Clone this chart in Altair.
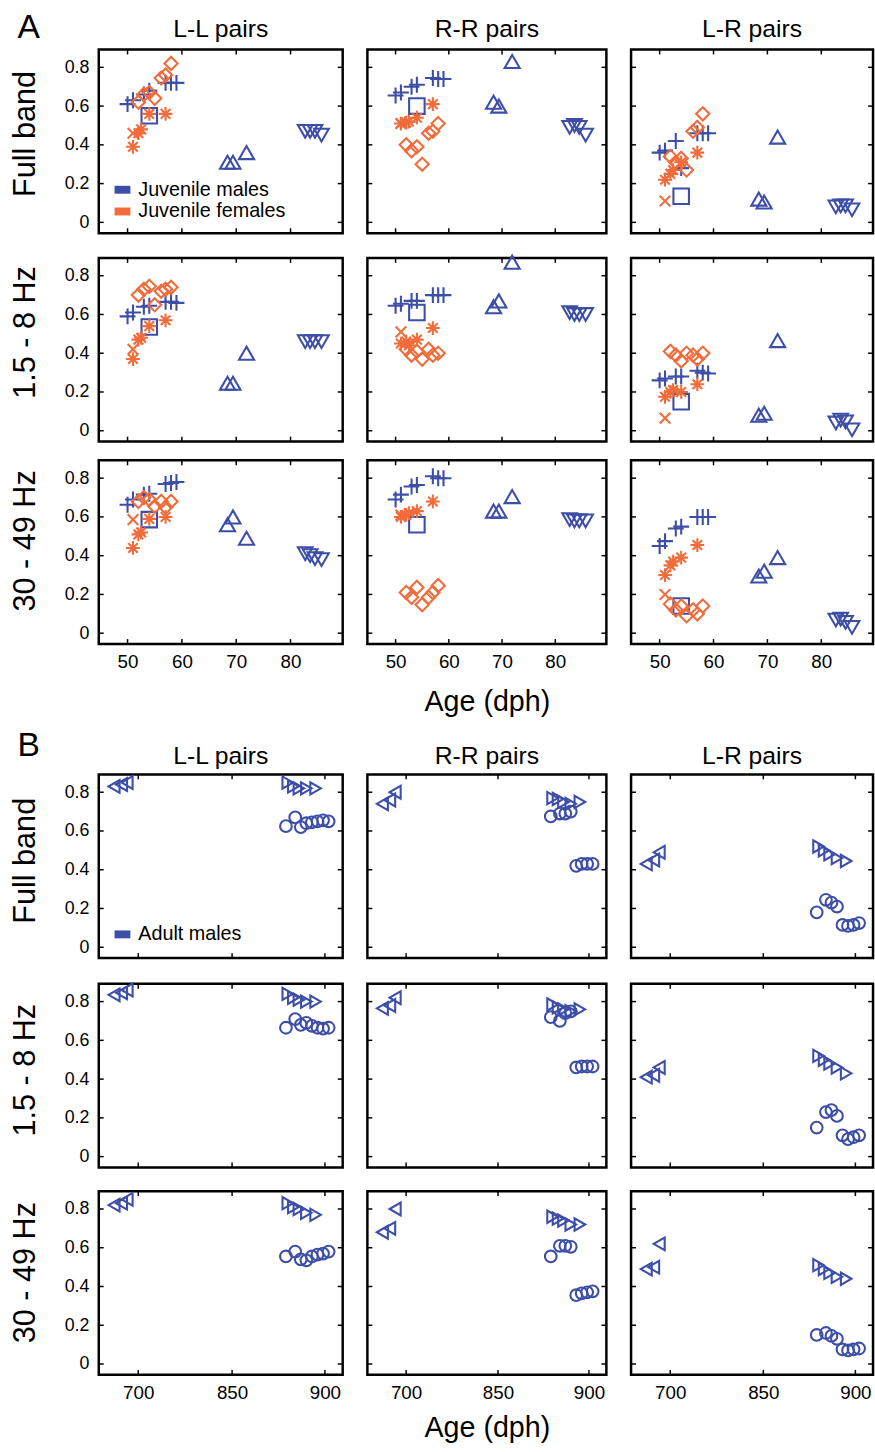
import altair as alt
import pandas as pd

FONT = "Liberation Sans"
BLUE = "#3D4EA8"
ORANGE = "#F26B3A"

ROW_TITLES = ["Full band", "1.5 - 8 Hz", "30 - 49 Hz"]
COL_TITLES = ["L-L pairs", "R-R pairs", "L-R pairs"]
SECTION_LETTERS = ["A", "B"]
X_TITLE = "Age (dph)"
A_X_TICKS = [50, 60, 70, 80]
B_X_TICKS = [700, 850, 900]
Y_TICKS = [0, 0.2, 0.4, 0.6, 0.8]
LEGEND_A = ["Juvenile males", "Juvenile females"]
LEGEND_B = ["Adult males"]

# ---------------- Section A (juveniles) ----------------
JM_PLUS_AGE = [50, 51, 53, 54, 57, 58, 59]
JM_PLUS = [
    [[0.61, 0.63, 0.66, 0.68, 0.72, 0.72, 0.72], [0.655, 0.67, 0.70, 0.71, 0.745, 0.74, 0.74], [0.36, 0.37, 0.42, 0.28, 0.46, 0.46, 0.46]],
    [[0.59, 0.61, 0.64, 0.645, 0.665, 0.665, 0.66], [0.645, 0.655, 0.67, 0.67, 0.70, 0.70, 0.70], [0.26, 0.27, 0.28, 0.28, 0.31, 0.30, 0.295]],
    [[0.663, 0.69, 0.715, 0.72, 0.77, 0.775, 0.78], [0.69, 0.715, 0.757, 0.765, 0.81, 0.80, 0.80], [0.45, 0.475, 0.54, 0.55, 0.60, 0.60, 0.60]],
]
JM_SQUARE_AGE = [54]
JM_SQUARE = [
    [[0.55], [0.60], [0.135]],
    [[0.535], [0.61], [0.15]],
    [[0.586], [0.56], [0.14]],
]
JM_UP_AGE = [68.4, 69.4, 71.9]
JM_UP = [
    [[0.31, 0.31, 0.36], [0.62, 0.60, 0.83], [0.12, 0.105, 0.44]],
    [[0.245, 0.245, 0.40], [0.64, 0.67, 0.87], [0.08, 0.09, 0.465]],
    [[0.56, 0.60, 0.49], [0.63, 0.63, 0.705], [0.295, 0.32, 0.39]],
]
JM_DOWN_AGE = [82.7, 83.6, 84.5, 85.7]
JM_DOWN = [
    [[0.47, 0.47, 0.47, 0.45], [0.49, 0.50, 0.49, 0.45], [0.08, 0.085, 0.085, 0.065]],
    [[0.46, 0.46, 0.46, 0.46], [0.61, 0.60, 0.60, 0.60], [0.04, 0.055, 0.046, 0.005]],
    [[0.41, 0.40, 0.385, 0.38], [0.586, 0.58, 0.58, 0.58], [0.068, 0.073, 0.056, 0.03]],
]
JF_X_AGE = [51]
JF_X = [
    [[0.46], [0.51], [0.11]],
    [[0.42], [0.51], [0.065]],
    [[0.586], [0.61], [0.20]],
]
JF_STAR_AGE = [51, 52, 52.5, 54, 57]
JF_STAR = [
    [[0.39, 0.46, 0.48, 0.56, 0.56], [0.51, 0.515, 0.52, 0.54, 0.61], [0.22, 0.25, 0.27, 0.31, 0.36]],
    [[0.37, 0.47, 0.48, 0.54, 0.57], [0.45, 0.46, 0.44, 0.47, 0.53], [0.175, 0.20, 0.21, 0.20, 0.24]],
    [[0.44, 0.51, 0.52, 0.59, 0.60], [0.60, 0.61, 0.62, 0.63, 0.68], [0.30, 0.35, 0.37, 0.39, 0.455]],
]
JF_DIAMOND_AGE = [52, 53, 54, 55, 56.2, 57, 58]
JF_DIAMOND = [
    [[0.62, 0.66, 0.67, 0.64, 0.745, 0.76, 0.82], [0.40, 0.37, 0.39, 0.30, 0.46, 0.47, 0.51], [0.34, 0.31, 0.33, 0.27, 0.47, 0.49, 0.56]],
    [[0.70, 0.73, 0.745, 0.65, 0.72, 0.73, 0.74], [0.42, 0.39, 0.41, 0.37, 0.42, 0.39, 0.40], [0.41, 0.39, 0.36, 0.40, 0.39, 0.37, 0.40]],
    [[0.68, 0.70, 0.69, 0.655, 0.68, 0.65, 0.68], [0.21, 0.185, 0.236, 0.147, 0.185, 0.21, 0.245], [0.15, 0.12, 0.14, 0.09, 0.12, 0.10, 0.14]],
]

# ---------------- Section B (adults) ----------------
AM_LEFT_AGE = [687, 691, 694]
AM_LEFT = [
    [[0.83, 0.84, 0.85], [0.74, 0.76, 0.80], [0.43, 0.45, 0.49]],
    [[0.835, 0.845, 0.86], [0.765, 0.78, 0.82], [0.41, 0.42, 0.46]],
    [[0.82, 0.83, 0.85], [0.68, 0.70, 0.80], [0.49, 0.50, 0.62]],
]
AM_RIGHT_AGE = [880, 883, 886, 890, 895]
AM_RIGHT = [
    [[0.85, 0.83, 0.82, 0.82, 0.82], [0.77, 0.765, 0.75, 0.74, 0.75], [0.52, 0.50, 0.48, 0.46, 0.445]],
    [[0.84, 0.82, 0.81, 0.80, 0.80], [0.785, 0.77, 0.76, 0.75, 0.76], [0.52, 0.50, 0.48, 0.46, 0.43]],
    [[0.83, 0.81, 0.80, 0.78, 0.77], [0.76, 0.75, 0.74, 0.72, 0.72], [0.51, 0.49, 0.47, 0.45, 0.44]],
]
AM_CIRCLE_AGE = [879, 884, 887, 890, 893, 896, 899, 902]
AM_CIRCLE = [
    [[0.625, 0.67, 0.62, 0.64, 0.645, 0.65, 0.655, 0.65], [0.675, 0.69, 0.69, 0.70, 0.42, 0.43, 0.43, 0.43], [0.18, 0.245, 0.23, 0.21, 0.115, 0.11, 0.115, 0.125]],
    [[0.665, 0.71, 0.68, 0.69, 0.675, 0.665, 0.66, 0.665], [0.72, 0.70, 0.74, 0.75, 0.46, 0.465, 0.465, 0.465], [0.15, 0.23, 0.24, 0.21, 0.11, 0.09, 0.10, 0.11]],
    [[0.555, 0.58, 0.54, 0.535, 0.555, 0.565, 0.57, 0.58], [0.555, 0.61, 0.61, 0.605, 0.355, 0.365, 0.37, 0.375], [0.15, 0.16, 0.145, 0.13, 0.075, 0.07, 0.075, 0.08]],
]

A_BIRDS = [
    ("plus", "jm", JM_PLUS_AGE, JM_PLUS),
    ("square", "jm", JM_SQUARE_AGE, JM_SQUARE),
    ("up", "jm", JM_UP_AGE, JM_UP),
    ("down", "jm", JM_DOWN_AGE, JM_DOWN),
    ("x", "jf", JF_X_AGE, JF_X),
    ("star", "jf", JF_STAR_AGE, JF_STAR),
    ("diamond", "jf", JF_DIAMOND_AGE, JF_DIAMOND),
]
B_BIRDS = [
    ("left", "am", AM_LEFT_AGE, AM_LEFT),
    ("right", "am", AM_RIGHT_AGE, AM_RIGHT),
    ("circle", "am", AM_CIRCLE_AGE, AM_CIRCLE),
]

PLUS_PATH = "M-1,0L1,0M0,-1L0,1"
X_PATH = "M-0.75,-0.75L0.75,0.75M-0.75,0.75L0.75,-0.75"
STAR_PATH = "M-1,0L1,0M0,-1L0,1M-0.7,-0.7L0.7,0.7M-0.7,0.7L0.7,-0.7"
MARKERS = ["plus", "square", "up", "down", "x", "star", "diamond", "left", "right", "circle"]
MARKER_SHAPES = [PLUS_PATH, "square", "triangle-up", "triangle-down", X_PATH, STAR_PATH,
                 "diamond", "triangle-left", "triangle-right", "circle"]
MARKER_SIZES = [260, 140, 310, 310, 240, 220, 340, 320, 320, 240]
GROUPS = ["jm", "jf", "am"]
GROUP_COLORS = [BLUE, ORANGE, BLUE]

H = 186
WIDTHS = [247, 242, 245]
Y_DOMAIN = [-0.056, 0.892]
ROW_TITLE_Y = {"A": [85, 75, 81], "B": [87, 87, 82]}
X_TITLE_PAD = {"A": 16, "B": 11}
LETTER_Y = {"A": -22, "B": -29}
COL_TITLE_Y = {"A": -21, "B": -19}


def panel_df(section, r, c):
    birds = A_BIRDS if section == "A" else B_BIRDS
    recs = []
    for marker, grp, ages, vals in birds:
        for a, v in zip(ages, vals[r][c]):
            recs.append({"age": a, "val": v, "marker": marker, "grp": grp})
    return pd.DataFrame(recs)


def panel(section, r, c):
    W = WIDTHS[c]
    k = W / 247.0
    if section == "A":
        xscale = alt.Scale(domain=[44.7, 89.6], nice=False, zero=False)
        xticks = A_X_TICKS
    else:
        xscale = alt.Scale(domain=[678.8, 700, 850, 900, 909.5],
                           range=[0, 40 * k, 135 * k, 229 * k, W], nice=False, zero=False)
        xticks = B_X_TICKS
    yscale = alt.Scale(domain=Y_DOMAIN, nice=False, zero=False)

    if r == 2:
        if c == 1:
            xaxis = alt.Axis(values=xticks, format="d", labelFontSize=19, labelPadding=9,
                             title=X_TITLE, titleFontSize=29, titleFontWeight="normal",
                             titlePadding=X_TITLE_PAD[section])
        else:
            xaxis = alt.Axis(values=xticks, format="d", labelFontSize=19, labelPadding=9, title="")
        xenc = alt.X("age:Q", scale=xscale, axis=xaxis)
    else:
        xenc = alt.X("age:Q", scale=xscale, axis=None)

    if c == 0:
        yaxis = alt.Axis(values=Y_TICKS, format=".1~f", labelFontSize=18, labelPadding=10,
                         title=ROW_TITLES[r], titleFontSize=31, titleFontWeight="normal", titlePadding=23,
                         titleY=ROW_TITLE_Y[section][r])
        yenc = alt.Y("val:Q", scale=yscale, axis=yaxis)
    else:
        yenc = alt.Y("val:Q", scale=yscale, axis=None)

    pts = alt.Chart(panel_df(section, r, c)).mark_point(filled=False, strokeWidth=2.1, opacity=1).encode(
        x=xenc,
        y=yenc,
        shape=alt.Shape("marker:N", scale=alt.Scale(domain=MARKERS, range=MARKER_SHAPES), legend=None),
        color=alt.Color("grp:N", scale=alt.Scale(domain=GROUPS, range=GROUP_COLORS), legend=None),
        size=alt.Size("marker:O", scale=alt.Scale(domain=MARKERS, range=MARKER_SIZES), legend=None),
    )

    xt_df = pd.DataFrame({"age": xticks})
    yt_df = pd.DataFrame({"val": Y_TICKS})
    tick_style = dict(color="black", strokeWidth=1.5)
    xb = alt.Chart(xt_df).mark_rule(**tick_style).encode(x=xenc, y=alt.value(H), y2=alt.value(H - 5))
    xtp = alt.Chart(xt_df).mark_rule(**tick_style).encode(x=xenc, y=alt.value(0), y2=alt.value(5))
    yl = alt.Chart(yt_df).mark_rule(**tick_style).encode(y=yenc, x=alt.value(0), x2=alt.value(5))
    yr = alt.Chart(yt_df).mark_rule(**tick_style).encode(y=yenc, x=alt.value(W), x2=alt.value(W - 5))

    layers = [pts, xb, xtp, yl, yr]

    if r == 0:
        layers.append(alt.Chart(pd.DataFrame({"t": [COL_TITLES[c]]})).mark_text(
            fontSize=25, font=FONT, align="center", baseline="middle", color="black").encode(
            x=alt.value(W / 2), y=alt.value(COL_TITLE_Y[section]), text="t:N"))
    if r == 0 and c == 0:
        letter = SECTION_LETTERS[0] if section == "A" else SECTION_LETTERS[1]
        layers.append(alt.Chart(pd.DataFrame({"t": [letter]})).mark_text(
            fontSize=34, font=FONT, align="center", baseline="middle", color="black").encode(
            x=alt.value(-71), y=alt.value(LETTER_Y[section]), text="t:N"))
        labels = LEGEND_A if section == "A" else LEGEND_B
        colors = [BLUE, ORANGE] if section == "A" else [BLUE]
        y0 = 142 if section == "A" else 162
        for i, (lab, col) in enumerate(zip(labels, colors)):
            yy = y0 + 22 * i
            ldf = pd.DataFrame({"t": [lab]})
            layers.append(alt.Chart(ldf).mark_rect(color=col).encode(
                x=alt.value(16), x2=alt.value(32), y=alt.value(yy - 4), y2=alt.value(yy + 4)))
            layers.append(alt.Chart(ldf).mark_text(
                fontSize=20, font=FONT, align="left", baseline="middle", color="black").encode(
                x=alt.value(40), y=alt.value(yy), text="t:N"))

    return alt.layer(*layers).properties(width=W, height=H)


def section_chart(section, row_spacing):
    rows = []
    for r in range(3):
        row = alt.hconcat(*[panel(section, r, c) for c in range(3)], spacing=25, bounds="flush").resolve_scale(
            x="independent", y="independent")
        rows.append(row)
    return alt.vconcat(*rows, spacing=row_spacing).resolve_scale(x="independent", y="independent")


chart = alt.vconcat(section_chart("A", 15), section_chart("B", 18), spacing=9).resolve_scale(
    x="independent", y="independent"
).properties(
    padding={"left": 8, "top": 0, "right": 0, "bottom": 0},
    background="white",
).configure(
    font=FONT
).configure_view(
    stroke="black", strokeWidth=2.5
).configure_axis(
    ticks=False, domain=False, grid=False, labelColor="black", titleColor="black",
    labelFont=FONT, titleFont=FONT
)

chart.save("out.html", embed_options={"renderer": "svg", "actions": False})
